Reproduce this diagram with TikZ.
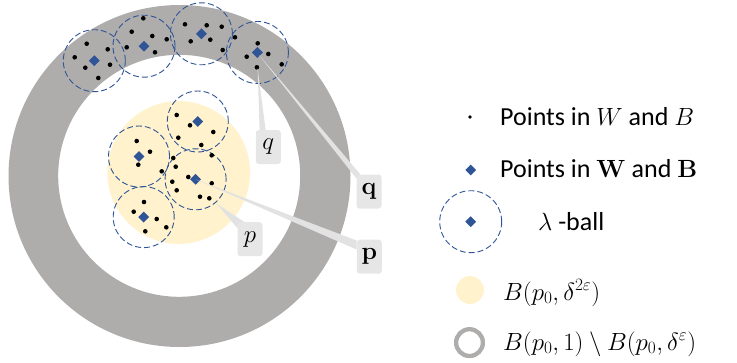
\documentclass[tikz,border=0pt]{standalone}
\usepackage[no-math]{fontspec}
\setmainfont{Carlito}
\usetikzlibrary{shapes.geometric,calc}
\definecolor{ringgray}{RGB}{175,172,172}
\definecolor{ballyellow}{RGB}{255,242,204}
\definecolor{ptblue}{RGB}{47,85,151}
\definecolor{boxgray}{RGB}{231,230,230}
\definecolor{wedgegray}{RGB}{226,226,226}
\begin{document}
\begin{tikzpicture}[x=1pt,y=-1pt,
  dot/.style={circle,fill=black,inner sep=0,minimum size=4.6},
  diam/.style={diamond,fill=ptblue,inner sep=0,minimum size=11},
  lball/.style={draw=ptblue,line width=0.9,dash pattern=on 6pt off 3pt},
  lbl/.style={fill=boxgray,rounded corners=3,inner sep=0,minimum width=25,minimum height=34,font=\fontsize{34}{34}\selectfont},
  wedge/.style={fill=wedgegray},
  leg/.style={anchor=base west,inner sep=0,font=\fontsize{26}{30}\selectfont},
  legm/.style={anchor=base west,inner sep=0,font=\fontsize{27}{30}\selectfont}
]
\useasboundingbox (0,0) rectangle (737,362);
% big discs
\fill[ballyellow] (178.7,172.5) circle[radius=71.4pt];
\fill[ringgray,even odd rule] (179.5,176) circle[radius=171pt] (179.2,175.8) circle[radius=121pt];
% outer balls
\node[diam] (b1) at (94.3,60.7) {};
\node[diam] (b2) at (144,46.2) {};
\node[diam] (b3) at (201.4,33.8) {};
\node[diam] (b4) at (257.4,52.5) {};
% inner balls
\node[diam] (bA) at (197.8,121.5) {};
\node[diam] (bB) at (139,156.5) {};
\node[diam] (bC) at (195.6,179.3) {};
\node[diam] (bD) at (143.7,217.1) {};
\foreach \b in {b1,b2,b3,b4} \draw[lball] (\b) circle[radius=31pt];
\foreach \b in {bA,bB,bC,bD} \draw[lball] (\b) circle[radius=30.5pt];
% points
\foreach \p/\q [count=\i] in {86.7/43.7,107.7/49.3,74.7/57.3,85.3/67.7,110/64.7,98.3/78,
  143.3/18.3,131.7/31.7,152.3/36,126.7/47.3,155/52.3,166.7/39.3,
  185/24.3,206.7/25.3,221.7/26.7,190.7/41.3,210.3/39.7,222.7/50,
  235/37.3,257.7/43.3,246.7/56.7,268.3/54,281.7/64.3,
  176.7/115,190/125.3,178.3/137.7,213.3/132,201.3/145,211.7/155.3,
  136.7/141,150/151.7,138.3/164.7,161.7/171.3,173.3/158,
  175.7/166.7,172.3/181.7,176.7/190.3,188.3/177,211.7/183.3,200/196.7,209.3/198.3,
  144/202,133.7/211.7,156.7/219,166.3/227.3,145.3/231.3}
  \node[dot] (pt\i) at (\p,\q) {};
\node[dot] (qpt) at (256.9,67.3) {};
% callout label positions
\coordinate (ql) at (268.3,147);
\coordinate (pl) at (250,239.2);
\coordinate (qb) at (369,191.5);
\coordinate (pb) at (369.3,256.7);
\node[lbl,opacity=0] (qlb) at (ql) {$q$};
\node[lbl,opacity=0] (plb) at (pl) {$p$};
\node[lbl,opacity=0] (qbb) at (qb) {$\mathbf{q}$};
\node[lbl,opacity=0] (pbb) at (pb) {$\mathbf{p}$};
% wedges
\coordinate (tq) at (257.6,68);
\coordinate (tp) at (216.5,203.5);
\coordinate (tqb) at (259,55);
\coordinate (tpb) at (196,179.5);
\fill[wedge] (tq) -- ($(qlb.north west)+(4,0)$) -- ($(qlb.north west)+(10,0)$) -- cycle;
\fill[wedge] (tp) -- ($(plb.north west)+(7,0)$) -- ($(plb.north west)+(0,6)$) -- cycle;
\fill[wedge] (tqb) -- ($(qbb.north west)+(4,0)$) -- ($(qbb.north west)+(0,4)$) -- cycle;
\fill[wedge] (tpb) -- ($(pbb.north west)+(0,1)$) -- ($(pbb.north west)+(0,10)$) -- cycle;
\node[lbl] (qlab) at (ql) {$q$};
\node[lbl] (plab) at (pl) {$p$};
\node[lbl] (qblab) at (qb) {$\mathbf{q}$};
\node[lbl] (pblab) at (pb) {$\mathbf{p}$};
% legend
\node[dot,minimum size=3.8] (l1) at (470,117) {};
\node[leg] (t1) at (500,125) {Points in $W$ and $B$};
\node[diam] (l2) at (470.7,170) {};
\node[leg] (t2) at (500,177.3) {Points in $\mathbf{W}$ and $\mathbf{B}$};
\node[diam] (l3) at (470.7,221.7) {};
\draw[lball] (l3) circle[radius=31pt];
\node[leg] (t3) at (538,230) {$\lambda$ -ball};
\fill[ballyellow] (470,290) circle[radius=14pt];
\draw[ringgray,line width=4.3pt] (469.5,342.6) circle[radius=13.4pt];
\node[legm] (t4) at (503,300) {$B(p_0,\delta^{2\varepsilon})$};
\node[legm] (t5) at (503,350) {$B(p_0,1)\setminus B(p_0,\delta^{\varepsilon})$};
\end{tikzpicture}
\end{document}
